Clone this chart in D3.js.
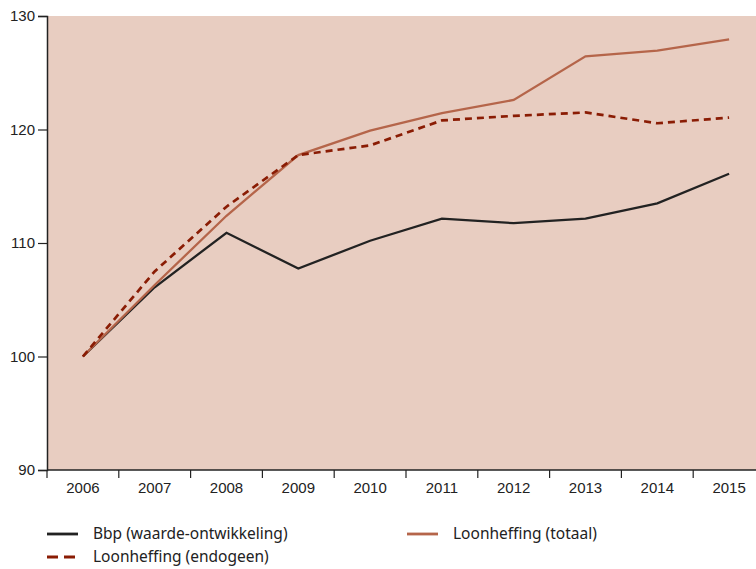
<!DOCTYPE html>
<html><head><meta charset="utf-8">
<script src="https://cdn.jsdelivr.net/npm/d3@7"></script>
<style>body{margin:0;background:#fff;overflow:hidden}svg{display:block;font-family:"Noto Sans","Open Sans",sans-serif}</style>
</head><body>
<script>
const years = ["2006","2007","2008","2009","2010","2011","2012","2013","2014","2015"];
const bbp = [100, 106.1, 110.9, 107.75, 110.2, 112.15, 111.75, 112.15, 113.5, 116.1];
const totaal = [100, 106.3, 112.4, 117.75, 119.9, 121.45, 122.6, 126.45, 126.95, 127.95];
const endogeen = [100, 107.5, 113.2, 117.75, 118.6, 120.8, 121.2, 121.5, 120.55, 121.05];
const yTicks = [90, 100, 110, 120, 130];
const legendLabels = ["Bbp (waarde-ontwikkeling)", "Loonheffing (totaal)", "Loonheffing (endogeen)"];

(function(){
const W = 756, H = 569;
const svg = d3.select("body").append("svg").attr("width", W).attr("height", H);
const mLeft = 47, mTop = 16, mBottom = 470;
const x = d3.scaleBand().domain(years).range([mLeft, mLeft + 718]);
const y = d3.scaleLinear().domain([90, 130]).range([mBottom, mTop]);

svg.append("rect").attr("x", mLeft).attr("y", mTop).attr("width", W - mLeft).attr("height", mBottom - mTop).attr("fill", "#e8cdc1");

// y axis
const ya = svg.append("g").attr("transform", `translate(${mLeft},0)`).call(d3.axisLeft(y).tickValues(yTicks).tickSize(9).tickPadding(3));
ya.select(".domain").attr("stroke", "#222").attr("stroke-width", 1.5);
ya.selectAll(".tick line").attr("stroke", "#222").attr("stroke-width", 1.2);
ya.selectAll("text").attr("font-size", 15).attr("fill", "#222");

// x axis
const xa = svg.append("g").attr("transform", `translate(0,${mBottom})`).call(d3.axisBottom(x).tickSize(0).tickPadding(12));
xa.select(".domain").remove();
xa.selectAll("text").attr("font-size", 15).attr("fill", "#222");
svg.append("line").attr("x1", mLeft).attr("x2", W).attr("y1", mBottom).attr("y2", mBottom).attr("stroke", "#222").attr("stroke-width", 1.5);
svg.append("g").selectAll("line").data(years).join("line")
  .attr("x1", d => x(d)).attr("x2", d => x(d)).attr("y1", mBottom).attr("y2", mBottom + 8)
  .attr("stroke", "#222").attr("stroke-width", 1.2);

const line = d3.line().x((d, i) => x(years[i]) + x.bandwidth() / 2).y(d => y(d));
const series = [
  {vals: bbp, color: "#222222", dash: null, w: 2.3},
  {vals: totaal, color: "#b5654a", dash: null, w: 2.3},
  {vals: endogeen, color: "#8a1c04", dash: "7,5", w: 2.7}
];
series.forEach(s => {
  svg.append("path").datum(s.vals).attr("d", line).attr("fill", "none")
    .attr("stroke", s.color).attr("stroke-width", s.w).attr("stroke-dasharray", s.dash);
});

// legend
const leg = [
  {x: 47, y: 534, s: series[0], t: legendLabels[0]},
  {x: 407, y: 534, s: series[1], t: legendLabels[1]},
  {x: 47, y: 557, s: series[2], t: legendLabels[2]}
];
leg.forEach(l => {
  svg.append("line").attr("x1", l.x).attr("x2", l.x + (l.s.dash ? 28 : 31)).attr("y1", l.y).attr("y2", l.y)
    .attr("stroke", l.s.color).attr("stroke-width", 2.8).attr("stroke-dasharray", l.s.dash ? "11,6" : null);
  svg.append("text").attr("x", l.x + 46).attr("y", l.y + 5).attr("font-size", 15.5).attr("fill", "#222").text(l.t);
});
})();
</script>
</body></html>
